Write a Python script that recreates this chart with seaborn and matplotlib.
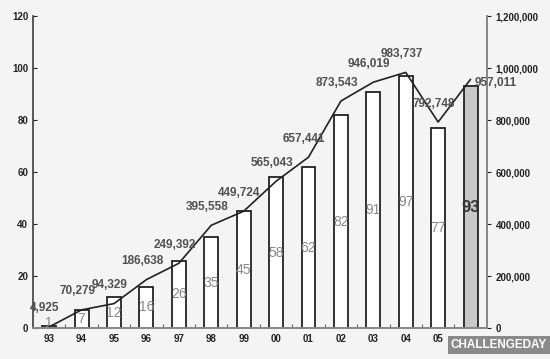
import matplotlib
matplotlib.use("Agg")
import matplotlib.pyplot as plt
from matplotlib.ticker import FixedLocator
import seaborn as sns
import pandas as pd

# data
years = ["93", "94", "95", "96", "97", "98", "99", "00", "01", "02", "03", "04", "05", "06"]
tick_labels = ["93", "94", "95", "96", "97", "98", "99", "00", "01", "02", "03", "04", "05", ""]
bar_values = [1, 7, 12, 16, 26, 35, 45, 58, 62, 82, 91, 97, 77, 93]
line_values = [4925, 70279, 94329, 186638, 249392, 395558, 449724,
               565043, 657441, 873543, 946019, 983737, 792748, 957011]

df = pd.DataFrame({"year": years, "count": bar_values, "total": line_values})

sns.set_theme(style="white")
plt.rcParams["font.family"] = ["Liberation Sans", "DejaVu Sans"]

fig = plt.figure(figsize=(5.5, 3.59), dpi=100, facecolor="#f4f4f4")
ax = fig.add_axes([0.06, 0.086, 0.825, 0.869])
ax.set_facecolor("#f4f4f4")

bar_colors = ["white"] * (len(years) - 1) + ["#c8c8c8"]
sns.barplot(data=df, x="year", y="count", hue="year", palette=bar_colors,
            legend=False, width=0.43, edgecolor="#222222", linewidth=1.3, ax=ax)
ax.set_ylim(0, 120)
ax.set_xlim(-0.5, len(years) - 0.5)
ax.set_yticks(range(0, 121, 20))
ax.set_xticks(range(len(years)))
ax.set_xticklabels(tick_labels)
ax.set_xlabel("")
ax.set_ylabel("")

for i, v in enumerate(bar_values):
    if i == len(bar_values) - 1:
        ax.text(i, v / 2, str(v), ha="center", va="center", fontsize=12,
                fontweight="bold", color="#333333")
    else:
        ax.text(i, max(v / 2, 1.8), str(v), ha="center", va="center", fontsize=10,
                color="#888888")

ax2 = ax.twinx()
sns.lineplot(x=list(range(len(years))), y=line_values, color="#222222",
             linewidth=1.2, ax=ax2)
ax2.set_ylim(0, 1200000)
ax2.set_yticks(range(0, 1200001, 200000))
ax2.set_yticklabels([f"{t:,}" for t in range(0, 1200001, 200000)])

for i, v in enumerate(line_values):
    if i == len(line_values) - 1:
        ax2.annotate(f"{v:,}", (i, v), xytext=(3, -3), textcoords="offset points",
                     ha="left", va="center", fontsize=8.5, fontweight="bold",
                     color="#505050")
    else:
        ax2.annotate(f"{v:,}", (i, v), xytext=(-3, 9), textcoords="offset points",
                     ha="center", va="bottom", fontsize=8.5, fontweight="bold",
                     color="#505050")

for a in (ax, ax2):
    a.spines["top"].set_visible(False)
    a.spines["left"].set_color("#444444")
    a.spines["right"].set_color("#888888")
    a.spines["bottom"].set_color("#888888")
    a.tick_params(length=3, width=0.8, labelsize=7, colors="#222222")
ax.tick_params(axis="y", direction="in")
# small category-boundary ticks pointing up, no ticks under the labels
ax.tick_params(axis="x", length=0, pad=4)
ax.xaxis.set_minor_locator(FixedLocator([i + 0.5 for i in range(len(years) - 1)]))
ax.tick_params(axis="x", which="minor", direction="in", length=3, width=0.8,
               color="#666666", bottom=True)
for lab in ax.get_xticklabels() + ax.get_yticklabels() + ax2.get_yticklabels():
    lab.set_fontweight("bold")
ax2.spines["left"].set_visible(False)

# watermark box in the corner
fig.text(0.907, 0.04, "CHALLENGEDAY", ha="center", va="center", fontsize=8.5,
         fontweight="bold", color="white",
         bbox=dict(boxstyle="square,pad=0.25", facecolor="#8a8a8a", edgecolor="none"))

fig.savefig("out.png", dpi=100, facecolor=fig.get_facecolor())
